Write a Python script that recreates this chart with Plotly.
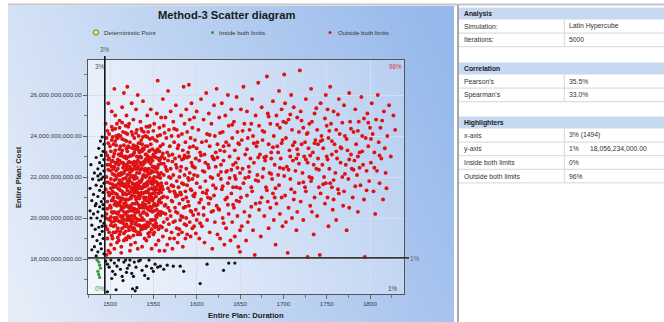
import base64
import struct
import zlib
import plotly.graph_objects as go

# ---------------- data ----------------
x_limit = 1494                 # 3% highlighter on duration
y_limit = 18_056_234_000       # 1% highlighter on cost

# cost values in billions
green_pts = [(1485, 17.95), (1487, 17.85), (1488, 17.7), (1489, 17.55), (1486, 17.4), (1487, 17.25), (1488, 17.1)]

black_left = [
    (1491, 23.95), (1489, 23.75), (1493, 23.6), (1487, 23.4), (1492, 23.25), (1490, 23.05), (1484, 22.95), (1493, 22.85), (1488, 22.7), (1478, 22.6),
    (1491, 22.55), (1486, 22.4), (1493, 22.3), (1482, 22.2), (1489, 22.15), (1492, 22.0), (1480, 21.9), (1487, 21.85), (1493, 21.7), (1484, 21.6),
    (1490, 21.55), (1477, 21.45), (1488, 21.35), (1492, 21.25), (1481, 21.15), (1486, 21.05), (1493, 20.95), (1479, 20.85), (1490, 20.8), (1484, 20.7),
    (1488, 20.55), (1492, 20.45), (1477, 20.35), (1486, 20.3), (1481, 20.2), (1491, 20.1), (1485, 20.0), (1489, 19.85), (1493, 19.75), (1479, 19.65),
    (1487, 19.55), (1483, 19.45), (1491, 19.35), (1488, 19.2), (1480, 19.1), (1492, 19.0), (1485, 18.9), (1489, 18.75), (1482, 18.6), (1490, 18.5),
    (1486, 18.35), (1493, 18.25), (1484, 18.15), (1479, 18.45), (1491, 19.6), (1483, 20.6), (1490, 21.9), (1486, 22.05), (1492, 20.65), (1478, 20.0),
]

black_below = [
    (1495, 17.9), (1497, 17.75), (1499, 17.6), (1501, 17.95), (1503, 17.4), (1505, 17.8), (1506, 17.25), (1508, 17.65), (1510, 17.95), (1512, 17.5),
    (1514, 17.15), (1516, 17.85), (1518, 17.95), (1520, 17.55), (1522, 17.7), (1523, 17.95), (1525, 17.3), (1526, 16.55), (1528, 17.85), (1529, 16.45),
    (1530, 17.6), (1531, 16.6), (1533, 17.9), (1535, 17.95), (1537, 17.45), (1540, 17.2), (1542, 17.65), (1545, 17.95), (1548, 17.55), (1550, 17.4),
    (1552, 17.75), (1555, 17.6), (1558, 17.65), (1562, 17.5), (1566, 17.7), (1573, 17.65), (1581, 17.65), (1585, 17.4), (1604, 16.8), (1612, 17.75),
    (1631, 17.45), (1637, 17.8), (1644, 17.8), (1515, 16.95), (1507, 16.5), (1497, 16.4), (1502, 17.05), (1544, 17.05), (1519, 17.35), (1527, 17.15),
]

red_core = [
    (1495, 24.6), (1496, 23.9), (1495, 23.2), (1497, 22.6), (1496, 22.0), (1495, 21.4), (1497, 20.8), (1496, 20.2), (1495, 19.6), (1497, 19.0),
    (1498, 18.4), (1499, 24.1), (1500, 23.5), (1499, 22.9), (1501, 22.3), (1500, 21.7), (1499, 21.1), (1501, 20.5), (1500, 19.9), (1499, 19.3),
    (1501, 18.7), (1502, 25.2), (1502, 23.8), (1502, 22.5), (1502, 21.2), (1502, 19.8), (1496, 18.2), (1498, 25.6), (1500, 18.3), (1495, 20.0),
    (1503, 24.3), (1504, 23.6), (1503, 22.8), (1505, 22.1), (1504, 21.5), (1503, 20.9), (1505, 20.3), (1504, 19.6), (1503, 19.0), (1505, 18.5),
    (1506, 25.0), (1507, 24.0), (1506, 23.3), (1508, 22.7), (1507, 21.9), (1506, 21.2), (1508, 20.6), (1507, 19.9), (1506, 19.3), (1508, 18.8),
    (1509, 23.9), (1510, 23.1), (1509, 22.4), (1510, 21.7), (1509, 21.0), (1510, 20.3), (1509, 19.5), (1510, 18.9), (1505, 26.3), (1508, 24.6),
    (1504, 22.4), (1507, 22.3), (1506, 20.0), (1509, 20.7), (1504, 19.3),
    (1511, 24.4), (1512, 23.5), (1511, 22.8), (1513, 22.2), (1512, 21.6), (1511, 21.0), (1513, 20.4), (1512, 19.8), (1511, 19.2), (1513, 18.6),
    (1514, 25.4), (1515, 24.2), (1514, 23.3), (1516, 22.6), (1515, 21.9), (1514, 21.3), (1516, 20.7), (1515, 20.1), (1514, 19.5), (1516, 18.9),
    (1517, 23.8), (1518, 23.0), (1517, 22.3), (1518, 21.6), (1517, 20.9), (1518, 20.2), (1517, 19.6), (1518, 19.0), (1516, 26.1), (1512, 22.1),
    (1514, 20.0), (1517, 21.2), (1515, 22.7), (1512, 20.8), (1518, 24.5), (1513, 18.3),
    (1519, 25.0), (1520, 24.1), (1519, 23.4), (1521, 22.7), (1520, 22.1), (1519, 21.5), (1521, 20.9), (1520, 20.3), (1519, 19.7), (1521, 19.1),
    (1522, 24.6), (1523, 23.7), (1522, 23.0), (1524, 22.4), (1523, 21.8), (1522, 21.2), (1524, 20.6), (1523, 20.0), (1522, 19.4), (1524, 18.7),
    (1525, 24.2), (1526, 23.4), (1525, 22.7), (1526, 22.0), (1525, 21.4), (1526, 20.7), (1525, 20.1), (1526, 19.5), (1520, 26.4), (1525, 25.6),
    (1521, 21.7), (1523, 22.5), (1524, 21.0), (1520, 19.9), (1526, 21.7), (1522, 20.5), (1519, 22.4), (1523, 18.4),
    (1527, 24.8), (1528, 23.9), (1527, 23.1), (1529, 22.5), (1528, 21.9), (1527, 21.3), (1529, 20.7), (1528, 20.1), (1527, 19.4), (1529, 18.8),
    (1530, 25.3), (1531, 24.3), (1530, 23.5), (1532, 22.8), (1531, 22.2), (1530, 21.6), (1532, 21.0), (1531, 20.4), (1530, 19.8), (1532, 19.2),
    (1533, 24.0), (1534, 23.2), (1533, 22.5), (1534, 21.8), (1533, 21.2), (1534, 20.5), (1533, 19.9), (1534, 19.3), (1532, 26.0), (1528, 22.4),
    (1530, 20.9), (1533, 21.6), (1529, 19.7), (1531, 23.0), (1534, 22.2), (1527, 20.4), (1532, 18.5),
    (1535, 24.7), (1536, 23.8), (1535, 23.0), (1537, 22.4), (1536, 21.8), (1535, 21.1), (1537, 20.5), (1536, 19.9), (1535, 19.2), (1537, 18.6),
    (1538, 25.7), (1539, 24.2), (1538, 23.4), (1540, 22.7), (1539, 22.1), (1538, 21.5), (1540, 20.9), (1539, 20.3), (1538, 19.6), (1540, 19.0),
    (1541, 24.0), (1542, 23.1), (1541, 22.4), (1542, 21.7), (1541, 21.0), (1542, 20.2), (1541, 19.5), (1542, 18.9), (1536, 22.6), (1539, 21.0),
    (1541, 23.5), (1537, 20.0), (1542, 22.3),
    (1543, 25.0), (1544, 24.2), (1543, 23.5), (1545, 22.8), (1544, 22.2), (1543, 21.6), (1545, 21.0), (1544, 20.4), (1543, 19.8), (1545, 19.1),
    (1546, 24.5), (1547, 23.6), (1546, 22.9), (1548, 22.3), (1547, 21.7), (1546, 21.1), (1548, 20.5), (1547, 19.9), (1546, 19.3), (1548, 18.5),
    (1549, 23.9), (1550, 23.1), (1549, 22.5), (1550, 21.9), (1549, 21.2), (1550, 20.6), (1549, 19.9), (1550, 19.2), (1555, 26.7), (1547, 25.3),
    (1545, 21.4), (1548, 21.0), (1544, 19.6),
    (1551, 24.6), (1552, 23.8), (1551, 23.0), (1553, 22.4), (1552, 21.8), (1551, 21.2), (1553, 20.6), (1552, 19.9), (1551, 19.3), (1553, 18.7),
    (1554, 25.1), (1555, 24.0), (1554, 23.3), (1556, 22.6), (1555, 22.0), (1554, 21.4), (1556, 20.8), (1555, 20.2), (1554, 19.6), (1556, 18.9),
    (1557, 24.4), (1558, 23.5), (1557, 22.8), (1559, 22.2), (1558, 21.5), (1557, 20.9), (1559, 20.3), (1558, 19.6), (1560, 23.0), (1560, 21.0),
    (1552, 22.5), (1556, 21.2), (1559, 24.9), (1553, 20.1), (1557, 18.4),
]

red_core_dense = [
    (1498, 23.65), (1497, 23.05), (1498, 22.35), (1497, 21.75), (1498, 21.25), (1497, 20.45), (1498, 19.95), (1497, 19.45), (1498, 22.85), (1497, 24.25),
    (1502, 24.45), (1503, 23.95), (1501, 23.25), (1502, 22.75), (1503, 22.15), (1501, 21.45), (1502, 20.85), (1503, 20.25), (1501, 19.65), (1502, 19.15),
    (1503, 21.65), (1501, 20.05), (1506, 23.75), (1505, 23.15), (1507, 22.65), (1505, 21.85), (1506, 21.55), (1508, 21.15), (1505, 20.65), (1507, 20.25),
    (1506, 19.65), (1508, 19.35), (1507, 23.55), (1505, 19.85), (1508, 22.05), (1506, 24.35), (1510, 24.05), (1511, 23.35), (1509, 22.85), (1510, 22.15),
    (1512, 21.35), (1509, 21.45), (1511, 20.65), (1510, 19.85), (1512, 19.35), (1509, 19.05), (1511, 21.85), (1512, 23.05), (1510, 20.75), (1511, 24.75),
    (1514, 23.85), (1513, 23.15), (1515, 22.45), (1513, 21.75), (1516, 21.55), (1514, 20.95), (1513, 20.55), (1515, 19.75), (1516, 19.25), (1514, 22.15),
    (1516, 23.55), (1513, 19.85), (1515, 21.15), (1514, 24.65), (1518, 24.15), (1519, 23.75), (1517, 22.95), (1520, 22.55), (1518, 21.95), (1519, 21.15),
    (1517, 20.55), (1520, 20.05), (1518, 19.35), (1519, 18.95), (1517, 21.65), (1520, 21.35), (1518, 20.75), (1520, 23.25), (1522, 23.45), (1521, 22.35),
    (1524, 22.05), (1522, 21.55), (1521, 20.55), (1523, 20.35), (1524, 19.85), (1521, 19.55), (1523, 19.05), (1522, 22.75), (1524, 23.05), (1521, 24.45),
    (1523, 21.25), (1524, 20.95), (1526, 24.05), (1527, 23.55), (1525, 23.05), (1528, 22.75), (1526, 22.35), (1527, 21.65), (1525, 21.05), (1528, 20.45),
    (1526, 19.85), (1527, 19.15), (1525, 19.75), (1528, 21.25), (1526, 20.35), (1527, 22.05), (1530, 24.15), (1529, 23.35), (1531, 22.65), (1529, 22.05),
    (1532, 21.45), (1530, 21.25), (1531, 20.75), (1529, 20.25), (1532, 19.65), (1530, 19.35), (1531, 21.95), (1532, 23.45), (1529, 21.05), (1531, 19.95),
    (1534, 23.65), (1533, 22.95), (1535, 22.35), (1534, 21.45), (1536, 21.25), (1533, 20.65), (1535, 20.15), (1534, 19.65), (1536, 19.45), (1535, 21.75),
    (1536, 22.95), (1533, 23.65), (1534, 20.95), (1536, 24.35), (1538, 23.95), (1537, 23.25), (1539, 22.75), (1538, 22.05), (1540, 21.65), (1537, 21.45),
    (1539, 20.65), (1538, 20.25), (1540, 19.65), (1537, 19.45), (1539, 23.35), (1540, 21.25), (1538, 20.75), (1537, 24.25), (1542, 24.45), (1541, 22.85),
    (1543, 22.35), (1542, 22.05), (1544, 21.25), (1541, 20.65), (1543, 20.15), (1542, 19.65), (1544, 19.25), (1543, 21.25), (1541, 21.55), (1544, 22.75),
    (1542, 20.85), (1543, 23.95), (1546, 23.85), (1545, 23.25), (1547, 22.65), (1546, 21.95), (1548, 21.45), (1545, 20.75), (1547, 20.35), (1546, 19.75),
    (1548, 19.45), (1545, 22.15), (1547, 21.15), (1548, 22.95), (1546, 20.55), (1545, 24.45), (1550, 24.25), (1549, 23.35), (1551, 22.45), (1550, 22.25),
    (1552, 21.25), (1549, 20.85), (1551, 20.35), (1550, 19.65), (1552, 19.55), (1549, 21.65), (1551, 21.75), (1552, 23.25), (1550, 20.95), (1554, 23.75),
    (1553, 22.95), (1555, 22.45), (1554, 21.75), (1556, 21.65), (1553, 21.05), (1555, 20.65), (1554, 20.05), (1556, 19.45), (1553, 19.75), (1555, 23.35),
    (1556, 22.15), (1554, 22.25), (1558, 24.05), (1557, 23.25), (1559, 22.65), (1558, 21.95), (1560, 21.55), (1557, 21.35), (1559, 20.75), (1561, 20.25),
    (1558, 20.15), (1560, 19.55), (1562, 22.65), (1561, 23.15), (1559, 21.25), (1562, 21.05),
]

red_core_centre = [
    (1500, 22.6), (1501, 21.9), (1500, 20.6), (1504, 23.0), (1504, 21.0), (1505, 20.0), (1507, 21.6), (1508, 23.9), (1506, 22.7), (1508, 20.0),
    (1510, 22.6), (1511, 21.4), (1510, 21.0), (1512, 20.1), (1512, 24.0), (1513, 22.7), (1514, 21.7), (1515, 20.5), (1516, 22.2), (1516, 20.3),
    (1518, 22.6), (1519, 20.9), (1517, 19.9), (1520, 21.8), (1519, 22.9), (1521, 23.5), (1522, 21.9), (1521, 20.1), (1523, 22.2), (1524, 19.6),
    (1525, 22.3), (1526, 21.1), (1525, 20.5), (1527, 22.6), (1528, 21.5), (1528, 23.2), (1529, 21.4), (1530, 22.4), (1529, 20.0), (1531, 21.3),
    (1532, 22.4), (1532, 20.3), (1533, 23.3), (1534, 21.1), (1535, 21.5), (1535, 22.7), (1536, 20.6), (1537, 21.9), (1536, 23.3), (1538, 21.2),
    (1538, 22.6), (1539, 19.9), (1540, 22.3), (1540, 20.5), (1541, 22.0), (1542, 21.3), (1541, 23.1), (1543, 20.5), (1544, 21.8), (1544, 23.0),
    (1545, 22.4), (1546, 20.9), (1547, 22.2), (1546, 23.3), (1548, 21.8), (1549, 20.3), (1549, 22.8), (1550, 21.4), (1551, 20.7), (1551, 22.0),
    (1552, 21.5), (1553, 23.2), (1553, 21.4), (1554, 20.4), (1555, 21.6), (1556, 22.9), (1557, 22.1), (1557, 20.3), (1558, 22.9), (1559, 21.7),
    (1503, 21.3), (1502, 20.3), (1505, 22.5), (1506, 20.8), (1509, 20.2), (1511, 22.1), (1513, 20.9), (1515, 23.0), (1517, 22.6), (1520, 20.6),
    (1522, 19.9), (1524, 21.5), (1526, 19.9), (1528, 19.5), (1531, 21.7), (1533, 20.3), (1535, 19.6), (1537, 23.6), (1539, 21.6), (1543, 22.9),
]

red_1560_1600 = [
    (1561, 25.8), (1562, 24.5), (1561, 23.6), (1563, 22.9), (1562, 22.1), (1561, 21.4), (1563, 20.6), (1562, 19.8), (1561, 19.1), (1563, 18.4),
    (1564, 24.9), (1565, 23.9), (1566, 23.2), (1564, 22.5), (1565, 21.7), (1566, 21.0), (1564, 20.2), (1565, 19.4), (1566, 18.7), (1567, 26.2),
    (1568, 24.3), (1569, 23.5), (1567, 22.8), (1568, 22.0), (1569, 21.3), (1567, 20.5), (1568, 19.7), (1569, 19.0), (1570, 25.2), (1571, 24.0),
    (1572, 23.1), (1570, 22.4), (1571, 21.6), (1572, 20.8), (1570, 20.1), (1571, 19.3), (1572, 18.5), (1573, 24.7), (1574, 23.7), (1575, 22.9),
    (1573, 22.1), (1574, 21.3), (1575, 20.5), (1573, 19.8), (1574, 19.0), (1576, 25.5), (1577, 24.3), (1578, 23.4), (1576, 22.6), (1577, 21.8),
    (1578, 21.1), (1576, 20.3), (1577, 19.5), (1578, 18.8), (1579, 24.0), (1580, 23.0), (1581, 22.3), (1579, 21.5), (1580, 20.7), (1581, 19.9),
    (1579, 19.2), (1582, 25.0), (1583, 24.1), (1584, 23.3), (1582, 22.5), (1583, 21.7), (1584, 20.9), (1582, 20.1), (1583, 19.3), (1584, 18.6),
    (1585, 26.4), (1586, 24.6), (1587, 23.7), (1585, 22.9), (1586, 22.1), (1587, 21.3), (1585, 20.5), (1586, 19.7), (1587, 19.0), (1588, 25.3),
    (1589, 24.2), (1590, 23.2), (1588, 22.4), (1589, 21.6), (1590, 20.8), (1588, 20.0), (1589, 19.2), (1591, 26.5), (1592, 24.8), (1593, 23.9),
    (1591, 23.0), (1592, 22.2), (1593, 21.4), (1591, 20.6), (1592, 19.8), (1593, 19.1), (1594, 25.6), (1595, 24.4), (1596, 23.5), (1594, 22.7),
    (1595, 21.9), (1596, 21.1), (1594, 20.3), (1595, 19.5), (1597, 24.9), (1598, 23.8), (1599, 22.9), (1597, 22.1), (1598, 21.2), (1599, 20.4),
    (1597, 19.6), (1600, 25.2), (1600, 23.4), (1600, 21.7), (1600, 19.9), (1566, 22.3), (1575, 21.2), (1580, 22.0), (1588, 21.0), (1596, 22.5),
    (1563, 24.15), (1565, 22.35), (1567, 21.45), (1564, 20.65), (1566, 19.95), (1568, 23.05), (1570, 21.95), (1569, 20.35), (1572, 22.75), (1571, 20.85),
    (1574, 24.35), (1573, 21.55), (1575, 19.85), (1577, 22.45), (1576, 21.05), (1578, 20.25), (1579, 23.55), (1581, 21.25), (1580, 19.45), (1583, 22.85),
    (1582, 21.15), (1584, 20.05), (1586, 23.05), (1585, 21.65), (1587, 20.55), (1589, 22.95), (1588, 19.65), (1590, 21.95), (1592, 23.45), (1591, 21.85),
    (1593, 20.35), (1595, 22.55), (1594, 21.35), (1596, 20.15), (1598, 22.45), (1597, 21.05), (1599, 19.25),
]

red_1600_1650 = [
    (1602, 24.3), (1603, 22.8), (1604, 21.5), (1602, 20.2), (1603, 19.0), (1605, 25.8), (1606, 23.7), (1607, 22.3), (1605, 20.9), (1606, 19.6),
    (1608, 24.8), (1609, 23.1), (1610, 21.8), (1608, 20.5), (1609, 18.8), (1611, 26.1), (1612, 24.1), (1613, 22.6), (1611, 21.2), (1612, 19.9),
    (1614, 25.1), (1615, 23.5), (1616, 22.0), (1614, 20.7), (1615, 19.3), (1617, 24.6), (1618, 23.0), (1619, 21.6), (1617, 20.3), (1618, 18.5),
    (1620, 25.5), (1621, 24.0), (1622, 22.5), (1620, 21.1), (1621, 19.8), (1623, 26.3), (1624, 23.6), (1625, 22.1), (1623, 20.6), (1624, 19.2),
    (1626, 24.9), (1627, 23.3), (1628, 21.9), (1626, 20.4), (1627, 19.0), (1629, 25.6), (1630, 24.2), (1631, 22.8), (1629, 21.4), (1630, 20.0),
    (1632, 18.7), (1633, 25.0), (1634, 23.7), (1635, 22.3), (1633, 20.9), (1634, 19.5), (1636, 26.0), (1637, 24.5), (1638, 23.0), (1636, 21.7),
    (1637, 20.2), (1639, 18.9), (1640, 25.3), (1641, 23.9), (1642, 22.6), (1640, 21.2), (1641, 19.8), (1643, 24.7), (1644, 23.3), (1645, 21.9),
    (1643, 20.5), (1644, 19.1), (1646, 25.9), (1647, 24.2), (1648, 22.9), (1646, 21.5), (1647, 20.1), (1648, 18.6), (1649, 23.6), (1650, 22.2),
    (1649, 20.8), (1650, 19.4), (1604, 23.2), (1613, 21.0), (1622, 23.2), (1628, 22.6), (1635, 21.0), (1642, 21.5), (1610, 22.7), (1619, 22.9),
    (1631, 23.5), (1645, 22.7),
    (1601, 22.05), (1603, 20.75), (1605, 23.05), (1604, 19.75), (1607, 21.25), (1609, 22.25), (1608, 20.15), (1611, 23.75), (1612, 21.35), (1614, 22.45),
    (1616, 20.95), (1615, 24.05), (1618, 21.95), (1620, 22.85), (1619, 20.35), (1622, 21.45), (1624, 22.95), (1625, 20.45), (1627, 24.15), (1628, 22.25),
    (1630, 21.55), (1632, 23.25), (1631, 19.75), (1634, 22.25), (1636, 20.65), (1638, 21.95), (1637, 23.55), (1640, 22.35), (1642, 20.65), (1641, 24.55),
    (1644, 22.05), (1646, 20.85), (1648, 23.65), (1650, 21.45), (1647, 22.45),
]

red_1650_1700 = [
    (1651, 25.3), (1652, 23.8), (1653, 22.4), (1651, 21.0), (1652, 19.6), (1654, 26.4), (1655, 24.6), (1656, 23.1), (1654, 21.7), (1655, 20.3),
    (1657, 18.9), (1658, 25.2), (1659, 23.9), (1660, 22.5), (1658, 21.1), (1659, 19.8), (1661, 24.3), (1662, 22.9), (1663, 21.5), (1661, 20.1),
    (1664, 25.8), (1665, 24.0), (1666, 22.7), (1664, 21.3), (1665, 19.4), (1667, 18.2), (1668, 25.0), (1669, 23.5), (1670, 22.1), (1668, 20.7),
    (1671, 26.6), (1672, 24.5), (1673, 23.1), (1671, 21.8), (1672, 20.4), (1674, 19.1), (1675, 25.4), (1676, 23.8), (1677, 22.4), (1675, 21.0),
    (1678, 24.2), (1679, 22.8), (1680, 21.5), (1678, 20.1), (1681, 26.9), (1682, 25.1), (1683, 23.6), (1684, 22.2), (1682, 20.8), (1683, 19.5),
    (1685, 24.6), (1686, 23.2), (1687, 21.9), (1685, 20.5), (1688, 25.7), (1689, 24.0), (1690, 22.6), (1688, 21.2), (1689, 19.9), (1691, 18.7),
    (1692, 25.0), (1693, 23.5), (1694, 22.1), (1692, 20.7), (1695, 26.2), (1696, 24.4), (1697, 22.9), (1695, 21.6), (1696, 20.2), (1698, 25.3),
    (1699, 23.8), (1700, 22.4), (1698, 21.0), (1699, 19.6), (1700, 24.7), (1650, 18.35), (1660, 22.0), (1676, 22.0), (1686, 22.9), (1694, 23.2),
    (1670, 23.7), (1680, 23.0), (1690, 21.0), (1663, 24.6),
    (1653, 24.25), (1656, 21.95), (1658, 23.35), (1661, 22.25), (1663, 20.55), (1666, 23.65), (1668, 21.85), (1671, 22.95), (1673, 20.75), (1676, 24.25),
    (1678, 22.95), (1681, 21.35), (1683, 24.95), (1686, 22.15), (1688, 23.45), (1691, 21.45), (1693, 24.55), (1696, 22.45), (1698, 23.65),
]

red_1700_1750 = [
    (1701, 27.0), (1702, 25.6), (1703, 23.9), (1704, 22.5), (1702, 21.1), (1703, 19.8), (1705, 18.3), (1706, 24.8), (1707, 23.3), (1708, 21.9),
    (1706, 20.5), (1709, 26.0), (1710, 24.3), (1711, 22.8), (1709, 21.4), (1710, 20.0), (1712, 25.4), (1713, 23.7), (1714, 22.3), (1712, 20.9),
    (1715, 19.4), (1716, 24.9), (1717, 23.1), (1718, 21.7), (1716, 20.3), (1719, 27.2), (1720, 25.2), (1721, 23.6), (1722, 22.2), (1720, 20.8),
    (1723, 24.4), (1724, 23.0), (1725, 21.5), (1723, 19.9), (1726, 25.8), (1727, 24.1), (1728, 22.7), (1726, 21.3), (1728, 18.1), (1729, 23.4),
    (1730, 22.0), (1731, 20.6), (1732, 26.3), (1733, 24.7), (1734, 23.2), (1732, 21.8), (1733, 20.3), (1735, 19.2), (1736, 25.1), (1737, 23.8),
    (1738, 22.4), (1736, 21.0), (1739, 24.3), (1740, 22.9), (1741, 21.5), (1739, 20.1), (1742, 18.2), (1743, 25.6), (1744, 24.0), (1745, 22.6),
    (1743, 21.2), (1746, 23.4), (1747, 22.0), (1748, 20.7), (1749, 26.0), (1750, 24.5), (1750, 23.0), (1749, 21.7), (1715, 22.9), (1725, 23.7),
    (1735, 22.6), (1745, 23.8), (1708, 23.0), (1718, 24.2), (1730, 24.6), (1740, 23.6),
    (1701, 22.05), (1703, 24.65), (1706, 22.35), (1708, 25.05), (1711, 23.55), (1713, 21.25), (1716, 23.35), (1718, 22.65), (1721, 24.75), (1723, 21.75),
    (1726, 22.85), (1728, 24.15), (1731, 23.05), (1733, 21.95), (1736, 23.65), (1738, 25.35), (1741, 22.35), (1743, 23.75), (1746, 21.65), (1748, 24.85),
]

red_1750_1830 = [
    (1751, 25.3), (1752, 23.9), (1753, 22.4), (1751, 21.0), (1752, 19.6), (1754, 26.4), (1755, 24.6), (1756, 23.1), (1754, 21.7), (1757, 20.4),
    (1758, 25.2), (1759, 23.6), (1760, 22.2), (1758, 20.9), (1761, 24.3), (1762, 22.9), (1763, 21.4), (1761, 19.9), (1764, 25.8), (1765, 24.1),
    (1766, 22.7), (1764, 21.2), (1767, 23.4), (1768, 22.0), (1769, 20.6), (1770, 25.5), (1771, 24.0), (1772, 22.6), (1770, 21.3), (1773, 19.4),
    (1774, 23.3), (1775, 21.9), (1776, 26.1), (1777, 24.7), (1778, 23.1), (1776, 20.5), (1779, 22.4), (1780, 21.0), (1781, 24.2), (1782, 22.8),
    (1783, 25.3), (1784, 23.6), (1785, 22.1), (1786, 20.3), (1787, 24.7), (1788, 23.2), (1789, 21.6), (1790, 25.9), (1791, 24.0), (1792, 22.6),
    (1793, 20.9), (1794, 18.1), (1795, 23.9), (1796, 22.3), (1797, 25.1), (1798, 23.5), (1799, 21.8), (1800, 24.4), (1756, 21.5), (1786, 23.0),
    (1801, 22.7), (1802, 25.6), (1803, 24.1), (1804, 21.3), (1805, 23.2), (1806, 20.2), (1807, 24.8), (1808, 22.3), (1809, 26.0), (1810, 23.7),
    (1811, 21.7), (1812, 24.4), (1813, 22.9), (1815, 20.9), (1816, 25.2), (1817, 23.4), (1818, 22.2), (1820, 24.0), (1822, 25.5), (1824, 23.0),
    (1827, 25.0), (1829, 24.3),
    (1751, 22.85), (1753, 24.25), (1756, 23.75), (1758, 21.85), (1761, 23.25), (1763, 25.05), (1766, 23.45), (1768, 24.65), (1771, 22.15), (1773, 23.85),
    (1776, 22.85), (1778, 24.35), (1781, 22.35), (1783, 21.55), (1786, 24.25), (1788, 22.45), (1791, 23.25), (1793, 24.85), (1796, 21.35), (1798, 24.65),
    (1801, 23.85), (1805, 22.45), (1811, 23.05), (1814, 24.75), (1819, 21.45),
]

legend_labels = ["Deterministic Point", "Inside both limits", "Outside both limits"]
pct_labels = {"top_left": "3%", "top_right": "96%", "bottom_left": "0%", "bottom_right": "1%",
              "x_line": "3%", "y_line": "1%"}

table_sections = [
    ("Analysis", [("Simulation:", "Latin Hypercube"), ("Iterations:", "5000")]),
    ("Correlation", [("Pearson's", "35.5%"), ("Spearman's", "33.0%")]),
    ("Highlighters", [("x-axis", "3% (1494)"), ("y-axis", "1%|18,056,234,000.00"),
                      ("Inside both limits", "0%"), ("Outside both limits", "96%")]),
]

# ---------------- helpers ----------------
W, H = 664, 322
PL, PR, PT, PB = 88, 404, 60, 294   # plot area in pixels
FONT = "Liberation Sans, Arial, sans-serif"


def fx(p):
    return (p - PL) / (PR - PL)


def fy(p):
    return (PB - p) / (PB - PT)


def gradient_png(w, h, light, dark, wx, wy, off):
    rows = []
    for j in range(h):
        s = j / (h - 1)
        row = bytearray(b"\x00")
        for i in range(w):
            t = i / (w - 1)
            k = max(0.0, min(1.0, wx * t + wy * (1 - s) + off))
            row += bytes(int(round(light[c] + (dark[c] - light[c]) * k)) for c in range(3))
        rows.append(bytes(row))
    raw = b"".join(rows)

    def chunk(tag, data):
        return struct.pack(">I", len(data)) + tag + data + struct.pack(">I", zlib.crc32(tag + data) & 0xFFFFFFFF)

    png = (b"\x89PNG\r\n\x1a\n" + chunk(b"IHDR", struct.pack(">IIBBBBB", w, h, 8, 2, 0, 0, 0))
           + chunk(b"IDAT", zlib.compress(raw, 9)) + chunk(b"IEND", b""))
    return "data:image/png;base64," + base64.b64encode(png).decode()


def split(pts):
    return [p[0] for p in pts], [p[1] * 1e9 for p in pts]


red_all = (red_core + red_core_dense + red_core_centre + red_1560_1600 + red_1600_1650
           + red_1650_1700 + red_1700_1750 + red_1750_1830)
black_all = black_left + black_below

fig = go.Figure()
rx, ry = split(red_all)
fig.add_trace(go.Scatter(x=rx, y=ry, mode="markers", name=legend_labels[2],
                         marker=dict(size=3.9, color="#de1212", line=dict(width=0))))
bx, by = split(black_all)
fig.add_trace(go.Scatter(x=bx, y=by, mode="markers", name="Other",
                         marker=dict(size=3.2, color="#111111", line=dict(width=0))))
gx, gy = split(green_pts)
fig.add_trace(go.Scatter(x=gx, y=gy, mode="markers", name=legend_labels[1],
                         marker=dict(size=3.2, color="#2f9a2f", line=dict(width=0))))

shapes = []
annotations = []
images = []

# backgrounds
images.append(dict(source=gradient_png(120, 80, (228, 236, 248), (150, 185, 235), 0.85, 0.25, -0.05),
                   xref="paper", yref="paper", x=fx(8), y=fy(6), sizex=fx(454) - fx(8), sizey=fy(6) - fy(322),
                   xanchor="left", yanchor="top", sizing="stretch", layer="below"))
images.append(dict(source=gradient_png(120, 80, (242, 246, 253), (186, 208, 241), 0.85, 0.2, -0.02),
                   xref="paper", yref="paper", x=0, y=1, sizex=1, sizey=1,
                   xanchor="left", yanchor="top", sizing="stretch", layer="below"))

# top border line
shapes.append(dict(type="line", xref="paper", yref="paper", x0=fx(8), x1=fx(664), y0=fy(4.5), y1=fy(4.5),
                   line=dict(color="#c4c4c4", width=2)))

# limit lines
shapes.append(dict(type="line", xref="x", yref="paper", x0=x_limit, x1=x_limit, y0=0, y1=fy(56),
                   line=dict(color="#151515", width=1.6)))
shapes.append(dict(type="line", xref="paper", yref="y", x0=0, x1=fx(409), y0=y_limit, y1=y_limit,
                   line=dict(color="#3a3a3a", width=1.6)))


def txt(t, x, y, size=6.2, color="#333333", anchor="center", bold=False, angle=0):
    annotations.append(dict(text=("<b>%s</b>" % t) if bold else t, xref="paper", yref="paper",
                            x=fx(x), y=fy(y), xanchor=anchor, yanchor="middle", showarrow=False,
                            textangle=angle, font=dict(family=FONT, size=size, color=color)))


# title, legend, axis titles
txt("Method-3 Scatter diagram", 226, 15, size=11.2, color="#1a1a1a", bold=True)
shapes.append(dict(type="circle", xref="paper", yref="paper", x0=fx(93.3), x1=fx(98.7), y0=fy(35.2), y1=fy(29.8),
                   fillcolor="#f4ee40", line=dict(color="#555555", width=0.8)))
txt(legend_labels[0], 102, 33, color="#333333", anchor="left")
shapes.append(dict(type="circle", xref="paper", yref="paper", x0=fx(211), x1=fx(214), y0=fy(34), y1=fy(31),
                   fillcolor="#2f9a2f", line=dict(width=0)))
txt(legend_labels[1], 217, 33, color="#333333", anchor="left")
shapes.append(dict(type="circle", xref="paper", yref="paper", x0=fx(328.5), x1=fx(331.5), y0=fy(34), y1=fy(31),
                   fillcolor="#e31414", line=dict(width=0)))
txt(legend_labels[2], 335.5, 33, color="#333333", anchor="left")

txt("Entire Plan: Duration", 245.5, 315.5, size=7.6, color="#222222", bold=True)
txt("Entire Plan: Cost", 18, 177, size=7.6, color="#222222", bold=True, angle=-90)

# percentage labels
txt(pct_labels["x_line"], 105, 50, size=6.4, color="#555555")
txt(pct_labels["top_left"], 99.5, 66, size=6.4, color="#555555")
txt(pct_labels["top_right"], 395, 66, size=6.4, color="#d23c3c")
txt(pct_labels["bottom_left"], 99.5, 288, size=6.4, color="#3c9c3c")
txt(pct_labels["bottom_right"], 393, 288, size=6.4, color="#444444")
txt(pct_labels["y_line"], 415, 258.3, size=6.4, color="#666666")

# ---------------- table ----------------
TX0, TX1, TDIV = 459, 664, 564.3
shapes.append(dict(type="line", xref="paper", yref="paper", x0=fx(458), x1=fx(458), y0=fy(5), y1=fy(322),
                   line=dict(color="#a8a8a8", width=2)))
header_tops = [7.5, 62.5, 116.5]
ROW = 13.6
HDR = 12.0
for (title, rows), top in zip(table_sections, header_tops):
    shapes.append(dict(type="rect", xref="paper", yref="paper", x0=fx(TX0), x1=fx(TX1), y0=fy(top + HDR), y1=fy(top),
                       fillcolor="#c6d9f1", line=dict(width=0), layer="below"))
    txt(title, 462, top + HDR / 2 + 0.3, size=6.8, color="#1a1a1a", anchor="left", bold=True)
    y = top + HDR
    for label, value in rows:
        y_bot = y + ROW
        shapes.append(dict(type="line", xref="paper", yref="paper", x0=fx(TX0), x1=fx(TX1), y0=fy(y_bot), y1=fy(y_bot),
                           line=dict(color="#d6d6d6", width=1)))
        shapes.append(dict(type="line", xref="paper", yref="paper", x0=fx(TDIV), x1=fx(TDIV), y0=fy(y_bot), y1=fy(y),
                           line=dict(color="#d6d6d6", width=1)))
        yc = (y + y_bot) / 2
        txt(label, 461.5, yc, size=6.8, color="#333333", anchor="left")
        if "|" in value:
            a, b = value.split("|")
            txt(a, 566.5, yc, size=6.8, color="#333333", anchor="left")
            txt(b, 587.5, yc, size=6.8, color="#333333", anchor="left")
        else:
            txt(value, 566.5, yc, size=6.8, color="#333333", anchor="left")
        y = y_bot

axis_common = dict(showline=True, mirror=True, linecolor="#555555", linewidth=1,
                   ticks="outside", ticklen=4, tickcolor="#666666", tickwidth=1,
                   showgrid=True, gridcolor="rgba(214,222,234,0.95)", gridwidth=1, zeroline=False,
                   tickfont=dict(family=FONT, size=6.2, color="#3a3a3a"))

fig.update_layout(
    width=W, height=H, margin=dict(l=PL, r=W - PR, t=PT, b=H - PB, pad=0),
    paper_bgcolor="white", plot_bgcolor="rgba(0,0,0,0)", showlegend=False,
    xaxis=dict(range=[1474.6, 1839.2], tick0=1500, dtick=50,
               minor=dict(dtick=25, tick0=1475, ticks="outside", ticklen=3, tickcolor="#777777", showgrid=False),
               **axis_common),
    yaxis=dict(range=[16.293e9, 27.707e9], tick0=0, dtick=2e9, tickformat=",.2f",
               minor=dict(dtick=1e9, tick0=0, ticks="outside", ticklen=3, tickcolor="#777777", showgrid=False),
               **axis_common),
    shapes=shapes, annotations=annotations, images=images,
)

fig.write_html("out.html")
